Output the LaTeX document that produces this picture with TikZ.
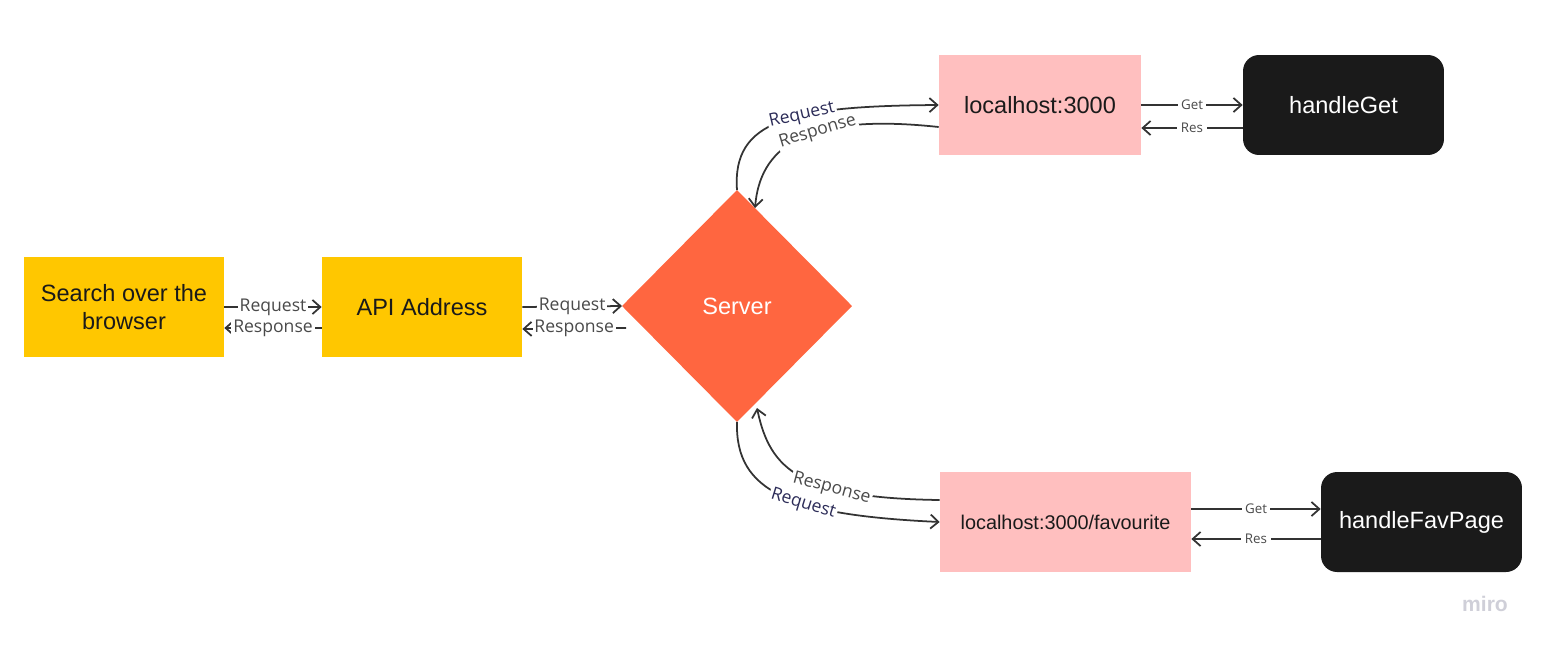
\documentclass[tikz,border=0pt]{standalone}
\usepackage{fontspec}
\setmainfont{Liberation Sans}
\newfontfamily\opensans{Open Sans}
\usetikzlibrary{shapes.geometric,arrows.meta}
\definecolor{boxyellow}{HTML}{FFC700}
\definecolor{boxpink}{HTML}{FFBFBF}
\definecolor{boxblack}{HTML}{1A1A1A}
\definecolor{serverorange}{HTML}{FF6640}
\definecolor{textdark}{HTML}{1A1A1A}
\definecolor{linedark}{HTML}{333333}
\definecolor{lblgray}{HTML}{4A4A4A}
\definecolor{lblnavy}{HTML}{2C2C58}
\definecolor{mirogray}{HTML}{CFCFD8}
\tikzset{ybox/.style={fill=boxyellow, text=textdark, minimum width=4cm, minimum height=2cm, align=center, inner sep=0pt, font=\fontsize{13.4}{15.5}\selectfont},
  pbox/.style={fill=boxpink, text=textdark, minimum height=2cm, inner sep=0pt, font=\fontsize{13.4}{15.5}\selectfont},
  kbox/.style={fill=boxblack, text=white, rounded corners=0.32cm, minimum width=4.02cm, minimum height=2cm, inner sep=0pt, font=\fontsize{13.4}{15.5}\selectfont},
  link/.style={draw=linedark, line width=1pt, -{Straight Barb[length=4.5pt,width=8pt]}},
  lbl/.style={fill=white, inner sep=1pt, text=lblgray, font=\opensans\fontsize{10}{11}\selectfont},
  smalllbl/.style={lbl, inner sep=2pt, font=\opensans\fontsize{7.6}{9}\selectfont}}

\begin{document}
\begin{tikzpicture}[x=0.02cm, y=-0.02cm]
  \useasboundingbox (0,0) rectangle (1545,647);
  \node[ybox] (search) at (124,307) {Search over the\\browser};
  \node[ybox] (api) at (422,307) {API Address};
  \node[diamond, fill=serverorange, text=white, minimum width=4.6cm, minimum height=4.64cm, inner sep=0pt, outer sep=0pt, font=\fontsize{13.4}{15.5}\selectfont] (server) at (737,306) {Server};
  \node[pbox, minimum width=4.04cm] (home) at (1040,105) {localhost:3000};
  \node[kbox] (get) at (1343.5,105) {handleGet};
  \node[pbox, minimum width=5.02cm, font=\fontsize{11.3}{13}\selectfont] (fav) at (1065.5,522) {localhost:3000/favourite};
  \node[kbox] (favpage) at (1421.5,522) {handleFavPage};
  \node[text=mirogray, font=\bfseries\fontsize{12}{14}\selectfont] (miro) at (1485,604) {miro};

  \draw[link] (search.east) -- node[lbl] {Request} (api.west);
  \draw[link] ([yshift=-0.42cm]api.west) -- node[lbl] {Response} ([yshift=-0.42cm]search.east);
  \draw[link] (api.east) -- node[lbl] {Request} (server.west);
  \draw[link] ([shift={(0.08cm,-0.44cm)}]server.west) -- node[lbl] {Response} ([yshift=-0.44cm]api.east);

  \draw[link] (server.north) .. controls (732,120) and (790,106) .. node[lbl, text=lblnavy, sloped, pos=0.6] {Request} (home.west);
  \draw[link] ([yshift=-0.44cm]home.west) .. controls (800,112) and (760,150) .. node[lbl, sloped, pos=0.39] {Response} ([shift={(0.36cm,-0.36cm)}]server.north);
  \draw[link] (server.south) .. controls (735,492) and (790,515) .. node[lbl, text=lblnavy, sloped, pos=0.6] {Request} (fav.west);
  \draw[link] ([yshift=0.44cm]fav.west) .. controls (800,498) and (770,470) .. node[lbl, sloped, pos=0.34] {Response} ([shift={(0.4cm,0.28cm)}]server.south);

  \draw[link] (home.east) -- node[smalllbl] {Get} (get.west);
  \draw[link] ([yshift=-0.46cm]get.west) -- node[smalllbl] {Res} ([yshift=-0.46cm]home.east);
  \draw[link] ([yshift=0.26cm]fav.east) -- node[smalllbl] {Get} ([yshift=0.26cm]favpage.west);
  \draw[link] ([yshift=-0.34cm]favpage.west) -- node[smalllbl] {Res} ([yshift=-0.34cm]fav.east);
\end{tikzpicture}
\end{document}
